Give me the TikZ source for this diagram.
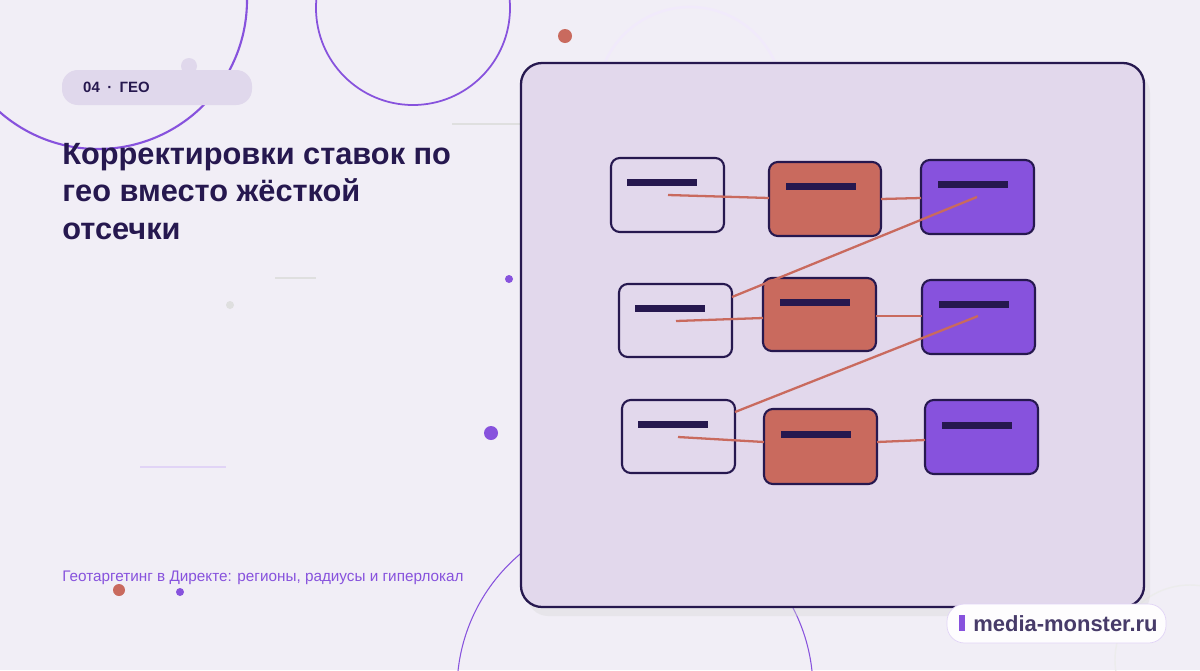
\documentclass[tikz,border=0pt]{standalone}
\usepackage{fontspec}
\setmainfont{Liberation Sans}
\usepackage{tikz}
\usetikzlibrary{positioning}
\definecolor{cbg}{HTML}{F1EEF6}
\definecolor{cink}{HTML}{26184F}
\definecolor{cpanel}{HTML}{E2D8EC}
\definecolor{cpurple}{HTML}{8752DD}
\definecolor{corange}{HTML}{C96A5E}
\definecolor{cpill}{HTML}{E0D8EC}
\begin{document}
\begin{tikzpicture}[x=0.02cm, y=-0.02cm,
    card/.style={draw=cink, line width=1.2pt, rounded corners=5pt},
    bar/.style={fill=cink},
    link/.style={draw=corange, line width=1.3pt},
    deco/.style={draw=cpurple, line width=1.2pt},
    faint/.style={draw=gray!25, line width=0.8pt}
  ]
  \fill[cbg] (0,0) rectangle (1200,670);
  \useasboundingbox (0,0) rectangle (1200,670);
  % background decoration
  \begin{scope}
    \clip (0,0) rectangle (1200,670);
    \draw[deco] (98,0) circle (149);
    \draw[deco, line width=1pt] (413,8) circle (97);
    \draw[faint, draw=cpurple!12, line width=1.5pt] (690,100) circle (93);
    \draw[deco, line width=0.6pt] (635,690) circle (178);
    \draw[faint, draw=gray!15] (1190,660) circle (75);
  \end{scope}
  \draw[faint] (452,124) -- (520,124);
  \draw[faint] (275,278) -- (316,278);
  \draw[draw=cpurple!25, line width=0.8pt] (140,467) -- (226,467);
  \fill[corange] (565,36) circle (7);
  \fill[cpurple] (509,279) circle (4);
  \fill[gray!25] (230,305) circle (4);
  \fill[cpurple] (491,433) circle (7);
  \fill[corange] (119,590) circle (6);
  \fill[cpurple] (180,592) circle (4);
  \fill[cpill] (189,66) circle (8);
  % heading
  \node[fill=cpill, rounded corners=9pt, minimum width=190*0.02cm, minimum height=35*0.02cm,
        inner sep=0pt] (tag) at (157,87.5) {};
  \node[anchor=west, text=cink, font=\bfseries\fontsize{8.5}{10}\selectfont] (tagtext) at (77,87.5) {04\enspace·\enspace ГЕО};
  \node[anchor=north west, align=left, text=cink, inner sep=0pt,
        font=\bfseries\fontsize{17.5}{21.2}\selectfont] (title) at (62,143)
    {Корректировки ставок по\\гео вместо жёсткой\\отсечки};
  \node[anchor=west, text=cpurple, inner sep=0pt, font=\fontsize{8.7}{10}\selectfont] (sub) at (62,578)
    {Геотаргетинг в Директе: регионы, радиусы и гиперлокал};
  % panel
  \fill[gray!30, opacity=0.4, rounded corners=12pt] (527,72) rectangle (1150,616);
  \draw[fill=cpanel, draw=cink, line width=1.3pt, rounded corners=12pt] (521,63) rectangle (1144,607);
  % cards
  \draw[card, fill=cpanel] (611,158) rectangle (724,232);
  \draw[card, fill=corange] (769,162) rectangle (881,236);
  \draw[card, fill=cpurple] (921,160) rectangle (1034,234);
  \draw[card, fill=cpanel] (619,284) rectangle (732,357);
  \draw[card, fill=corange] (763,278) rectangle (876,351);
  \draw[card, fill=cpurple] (922,280) rectangle (1035,354);
  \draw[card, fill=cpanel] (622,400) rectangle (735,473);
  \draw[card, fill=corange] (764,409) rectangle (877,484);
  \draw[card, fill=cpurple] (925,400) rectangle (1038,474);
  \foreach \x/\y in {627/182, 786/186, 938/184, 635/308, 780/302, 939/304, 638/424, 781/434, 942/425}
    \fill[bar] (\x,\y-3.5) rectangle (\x+70,\y+3.5);
  % links
  \coordinate (p1) at (668,195); \coordinate (q1) at (769,198);
  \coordinate (r1) at (881,199); \coordinate (s1) at (921,198);
  \coordinate (t1) at (977,197); \coordinate (u2) at (732,297);
  \coordinate (p2) at (676,321); \coordinate (q2) at (763,318);
  \coordinate (r2) at (876,316); \coordinate (s2) at (922,316);
  \coordinate (t2) at (978,316); \coordinate (u3) at (735,412);
  \coordinate (p3) at (678,437); \coordinate (q3) at (764,442);
  \coordinate (r3) at (877,442); \coordinate (s3) at (925,440);
  \foreach \a/\b in {p1/q1, r1/s1, t1/u2, p2/q2, r2/s2, t2/u3, p3/q3, r3/s3}
    \draw[link] (\a) -- (\b);
  % footer badge
  \node[draw=cpurple!25, fill=white!96!cpanel, rounded corners=10pt, minimum width=219*0.02cm,
        minimum height=39*0.02cm, inner sep=0pt] (badge) at (1056.5,623.5) {};
  \fill[cpurple] (959,615) rectangle (965,631);
  \node[anchor=west, text=cink!85, inner sep=0pt, font=\bfseries\fontsize{12.5}{15}\selectfont] (site) at (973,624) {media-monster.ru};
\end{tikzpicture}
\end{document}
